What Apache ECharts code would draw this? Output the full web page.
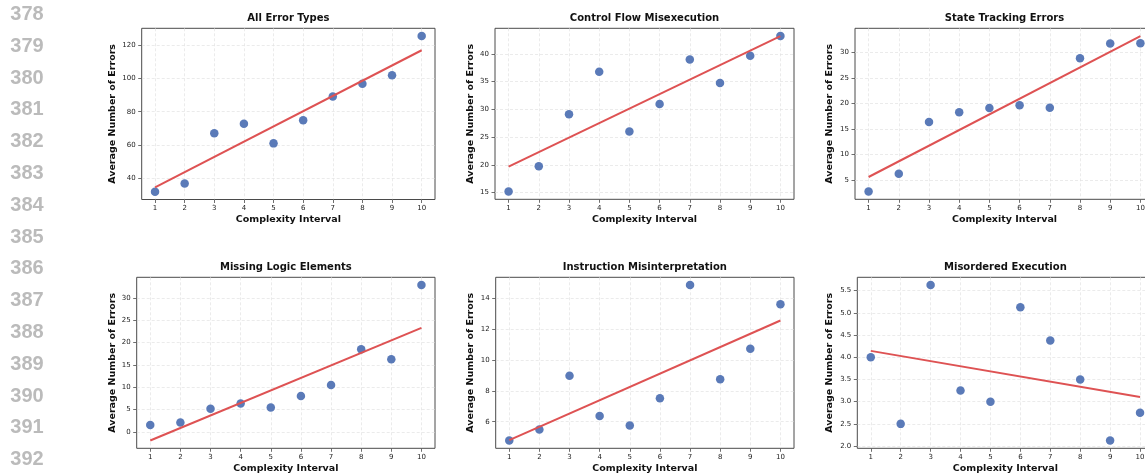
<!DOCTYPE html>
<html>
<head>
<meta charset="utf-8">
<script src="https://cdn.jsdelivr.net/npm/echarts@6/dist/echarts.min.js"></script>
<style>
html,body{margin:0;padding:0;background:#fff;}
#chart{width:1145px;height:473px;}
</style>
</head>
<body>
<div id="chart"></div>
<script>
// ---------- data ----------
const complexityIntervals = [1, 2, 3, 4, 5, 6, 7, 8, 9, 10];
const panelTitles = [
  'All Error Types', 'Control Flow Misexecution', 'State Tracking Errors',
  'Missing Logic Elements', 'Instruction Misinterpretation', 'Misordered Execution'
];
const allErrorTypes = [31.7, 36.6, 67.0, 72.7, 60.9, 74.8, 89.2, 96.9, 102.1, 125.7];
const controlFlowMisexecution = [15.2, 19.75, 29.1, 36.75, 26.0, 30.96, 38.98, 34.76, 39.64, 43.19];
const stateTrackingErrors = [2.78, 6.24, 16.36, 18.25, 19.1, 19.62, 19.15, 28.83, 31.7, 31.76];
const missingLogicElements = [1.5, 2.1, 5.16, 6.36, 5.46, 8.0, 10.48, 18.48, 16.24, 32.85];
const instructionMisinterpretation = [4.78, 5.5, 8.99, 6.37, 5.76, 7.52, 14.87, 8.75, 10.73, 13.63];
const misorderedExecution = [4.0, 2.5, 5.625, 3.25, 3.0, 5.125, 4.375, 3.5, 2.125, 2.75];

const xTickValues = [1, 2, 3, 4, 5, 6, 7, 8, 9, 10];
const yTicksAll = [40, 60, 80, 100, 120];
const yTicksControl = [15, 20, 25, 30, 35, 40];
const yTicksState = [5, 10, 15, 20, 25, 30];
const yTicksMissing = [0, 5, 10, 15, 20, 25, 30];
const yTicksInstruction = [6, 8, 10, 12, 14];
const yTicksMisordered = [2.0, 2.5, 3.0, 3.5, 4.0, 4.5, 5.0, 5.5];
const yTickDecimals = [0, 0, 0, 0, 0, 1];

const lineNumbers = [378, 379, 380, 381, 382, 383, 384, 385, 386, 387, 388, 389, 390, 391, 392];

const xAxisName = 'Complexity Interval';
const yAxisName = 'Average Number of Errors';

// ---------- layout ----------
const seriesData = [allErrorTypes, controlFlowMisexecution, stateTrackingErrors,
  missingLogicElements, instructionMisinterpretation, misorderedExecution];
const yTicks = [yTicksAll, yTicksControl, yTicksState, yTicksMissing, yTicksInstruction, yTicksMisordered];

const grids = [
  {left: 141.7, top: 28.3, width: 293.3, height: 171.2, yGap: 24.4},
  {left: 495.0, top: 28.3, width: 299.0, height: 171.0, yGap: 19.0},
  {left: 855.0, top: 28.3, width: 299.0, height: 171.0, yGap: 20.0},
  {left: 136.7, top: 277.3, width: 298.3, height: 171.0, yGap: 19.4},
  {left: 495.7, top: 277.3, width: 298.3, height: 171.0, yGap: 19.7},
  {left: 857.3, top: 277.3, width: 296.2, height: 171.0, yGap: 22.3}
];

function fitLine(xs, ys) {
  const n = xs.length;
  const mx = xs.reduce((a, b) => a + b, 0) / n;
  const my = ys.reduce((a, b) => a + b, 0) / n;
  let sxy = 0, sxx = 0;
  for (let i = 0; i < n; i++) { sxy += (xs[i] - mx) * (ys[i] - my); sxx += (xs[i] - mx) * (xs[i] - mx); }
  const b = sxy / sxx, a = my - b * mx;
  return [[xs[0], a + b * xs[0]], [xs[n - 1], a + b * xs[n - 1]]];
}

const FONT = '"DejaVu Sans", sans-serif';
const option = {
  animation: false,
  backgroundColor: '#ffffff',
  title: [], grid: [], xAxis: [], yAxis: [], series: [],
  graphic: []
};

seriesData.forEach((ys, i) => {
  const g = grids[i];
  const fit = fitLine(complexityIntervals, ys);
  const all = ys.concat([fit[0][1], fit[1][1]]);
  const lo = Math.min.apply(null, all), hi = Math.max.apply(null, all);
  const pad = (hi - lo) * 0.05;
  const xPad = (complexityIntervals[complexityIntervals.length - 1] - complexityIntervals[0]) * 0.05;

  option.grid.push({
    left: g.left, top: g.top, width: g.width, height: g.height,
    show: true, borderColor: '#4a4a4a', borderWidth: 1, backgroundColor: 'transparent',
    containLabel: false, outerBoundsMode: 'none'
  });
  option.title.push({
    text: panelTitles[i],
    left: g.left + g.width / 2, top: g.top - 16.3, textAlign: 'center', padding: 0,
    textStyle: {fontFamily: FONT, fontWeight: 'bold', fontSize: 10, color: '#111', lineHeight: 12}
  });
  const dec = yTickDecimals[i];
  option.xAxis.push({
    type: 'value', gridIndex: i,
    min: complexityIntervals[0] - xPad, max: complexityIntervals[complexityIntervals.length - 1] + xPad,
    name: xAxisName, nameLocation: 'middle', nameGap: 15,
    nameTextStyle: {fontFamily: FONT, fontWeight: 'bold', fontSize: 9.5, color: '#111'},
    axisLine: {show: false, onZero: false},
    axisTick: {show: true, customValues: xTickValues, length: 3.5, lineStyle: {color: '#4a4a4a', width: 0.8}},
    axisLabel: {show: true, customValues: xTickValues, margin: 5, fontFamily: FONT, fontSize: 7, color: '#222',
      formatter: v => String(v)},
    splitLine: {show: true, lineStyle: {color: '#e2e2e2', type: [3, 2], width: 0.7}}
  });
  option.yAxis.push({
    type: 'value', gridIndex: i, min: lo - pad, max: hi + pad,
    name: yAxisName, nameLocation: 'middle', nameRotate: 90, nameGap: g.yGap,
    nameTextStyle: {fontFamily: FONT, fontWeight: 'bold', fontSize: 9.5, color: '#111'},
    axisLine: {show: false, onZero: false},
    axisTick: {show: true, customValues: yTicks[i], length: 3.5, lineStyle: {color: '#4a4a4a', width: 0.8}},
    axisLabel: {show: true, customValues: yTicks[i], margin: 6, fontFamily: FONT, fontSize: 7, color: '#222',
      formatter: v => Number(v).toFixed(dec)},
    splitLine: {show: true, lineStyle: {color: '#e2e2e2', type: [3, 2], width: 0.7}}
  });
  option.series.push({
    type: 'scatter', xAxisIndex: i, yAxisIndex: i,
    data: complexityIntervals.map((x, k) => [x, ys[k]]),
    symbol: 'circle', symbolSize: 8.5,
    itemStyle: {color: '#5a7ab8', opacity: 1},
    z: 3
  });
  option.series.push({
    type: 'line', xAxisIndex: i, yAxisIndex: i, data: fit,
    showSymbol: false, symbol: 'none',
    lineStyle: {color: '#de5253', width: 2},
    z: 4
  });
});

lineNumbers.forEach((n, k) => {
  option.graphic.push({
    type: 'text', x: 27, y: 14.5 + k * 31.8,
    style: {text: String(n), align: 'center', verticalAlign: 'middle',
      font: 'bold 20px "Liberation Sans", Arial, sans-serif', fill: '#bbbbbb'}
  });
});

const chart = echarts.init(document.getElementById('chart'), null, {renderer: 'canvas'});
chart.setOption(option);
</script>
</body>
</html>
